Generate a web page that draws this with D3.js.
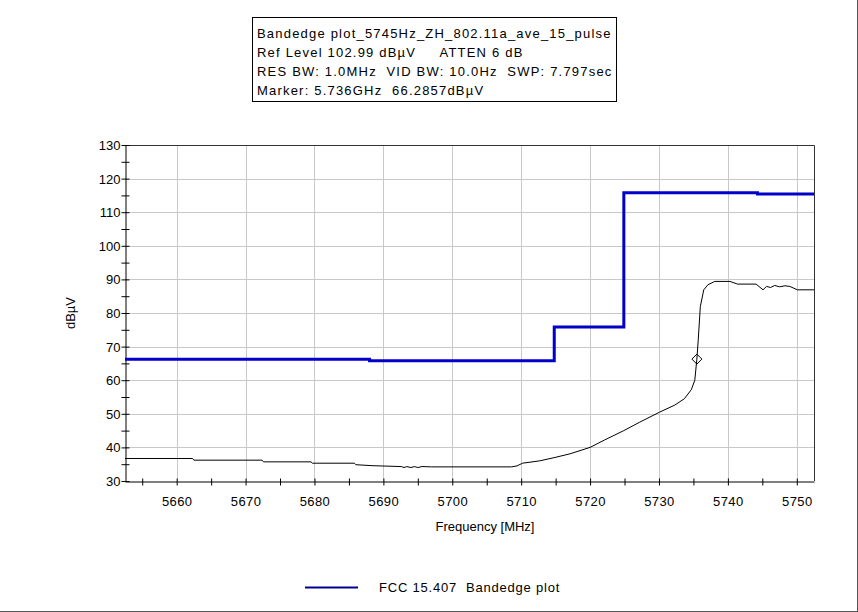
<!DOCTYPE html>
<html>
<head>
<meta charset="utf-8">
<script src="https://cdn.jsdelivr.net/npm/d3@7"></script>
<style>
  html, body { margin: 0; padding: 0; background: #fff; }
  svg { display: block; font-family: "Liberation Sans", Arial, sans-serif; }
  text { white-space: pre; }
</style>
</head>
<body>
<svg id="chart" width="858" height="612"></svg>
<script>
// Header text lines
const headerLines = [
  "Bandedge plot_5745Hz_ZH_802.11a_ave_15_pulse",
  "Ref Level 102.99 dBµV     ATTEN 6 dB",
  "RES BW: 1.0MHz  VID BW: 10.0Hz  SWP: 7.797sec",
  "Marker: 5.736GHz  66.2857dBµV"
];

// Axis ticks
const xTickValues = [5660, 5670, 5680, 5690, 5700, 5710, 5720, 5730, 5740, 5750];
const yTickValues = [30, 40, 50, 60, 70, 80, 90, 100, 110, 120, 130];

// Limit line (step segments): frequency [MHz], level [dBµV]
const limitFreq  = [5652.5, 5688.0, 5688.0, 5714.8, 5714.8, 5724.9, 5724.9, 5744.3, 5744.3, 5752.5];
const limitLevel = [66.2,   66.2,   65.8,   65.8,   75.8,   75.8,   115.8,  115.8,  115.4,  115.4];

// Measured trace: frequency [MHz], level [dBµV]
const traceFreq = [
  5652.5, 5662.3, 5662.5, 5672.4, 5672.6, 5679.5, 5679.7, 5685.8, 5686.0, 5688.5,
  5692.6, 5693.0, 5693.4, 5694.0, 5694.5, 5695.0, 5695.6, 5697.0, 5708.6, 5709.4,
  5710.2, 5712.7, 5714.9, 5717.1, 5720.0, 5722.1, 5724.9, 5727.2, 5730.1, 5732.3,
  5733.7, 5734.7, 5735.2, 5735.5, 5735.7, 5736.0, 5736.5, 5737.1, 5738.1, 5740.3,
  5741.4, 5744.1, 5745.1, 5745.6, 5746.2, 5746.8, 5747.5, 5748.3, 5749.0, 5750.1,
  5752.5
];
const traceLevel = [
  36.7, 36.7, 36.2, 36.2, 35.7, 35.7, 35.3, 35.3, 34.85, 34.55,
  34.3, 34.0, 34.3, 34.0, 34.3, 34.0, 34.3, 34.2, 34.2, 34.5,
  35.3, 36.0, 37.0, 38.1, 40.0, 42.2, 45.0, 47.5, 50.5, 52.6,
  54.5, 57.2, 60.0, 66.2857, 72.0, 81.9, 86.9, 88.4, 89.4, 89.4,
  88.6, 88.6, 86.9, 87.9, 87.6, 88.2, 87.8, 88.1, 87.9, 86.9,
  86.9
];

// Marker
const markerFreq = 5735.5;
const markerLevel = 66.2857;

const legendLabel = "FCC 15.407  Bandedge plot";

const svg = d3.select("#chart");
const plot = { left: 125, right: 814, top: 145, bottom: 481 };

const x = d3.scaleLinear().domain([5652.5, 5752.5]).range([plot.left, plot.right]);
const y = d3.scaleLinear().domain([30, 130]).range([plot.bottom, plot.top]);

// Outer frame edges
svg.append("line").attr("x1", 857.5).attr("x2", 857.5).attr("y1", 0).attr("y2", 612)
  .attr("stroke", "#555");
svg.append("line").attr("x1", 0).attr("x2", 858).attr("y1", 611.5).attr("y2", 611.5)
  .attr("stroke", "#555");

// Header box
const hb = svg.append("g");
hb.append("rect").attr("x", 252.5).attr("y", 17.5).attr("width", 364).attr("height", 84)
  .attr("fill", "#fff").attr("stroke", "#000");
hb.selectAll("text").data(headerLines).join("text")
  .attr("x", 257)
  .attr("y", (d, i) => 38 + i * 19)
  .attr("font-size", 13)
  .attr("letter-spacing", 1.2)
  .attr("fill", "#000")
  .text(d => d);

// Grid
const grid = svg.append("g").attr("stroke", "#c8c8c8").attr("stroke-width", 1);
grid.selectAll(".gx").data(xTickValues).join("line")
  .attr("x1", d => Math.round(x(d)) + 0.5).attr("x2", d => Math.round(x(d)) + 0.5)
  .attr("y1", plot.top).attr("y2", plot.bottom);
grid.selectAll(".gy").data(yTickValues.filter(v => v > 30 && v < 130)).join("line")
  .attr("x1", plot.left).attr("x2", plot.right)
  .attr("y1", d => Math.round(y(d)) + 0.5).attr("y2", d => Math.round(y(d)) + 0.5);

// Top and right frame of the plot
svg.append("path")
  .attr("d", `M${plot.left},${plot.top + 0.5}H${plot.right + 0.5}V${plot.bottom}`)
  .attr("fill", "none").attr("stroke", "#333");

// Axes
const xAxis = d3.axisBottom(x)
  .tickValues(d3.range(5655, 5751, 5))
  .tickSize(0)
  .tickFormat(d => xTickValues.includes(d) ? d : "");
const gx = svg.append("g").attr("transform", `translate(0,${plot.bottom + 0.5})`).call(xAxis);
gx.select(".domain").attr("stroke", "#000");
gx.selectAll(".tick line").attr("y1", -3).attr("y2", 4).attr("stroke", "#000");
gx.selectAll(".tick text").attr("dy", 0).attr("y", 24)
  .attr("font-size", 13).attr("letter-spacing", 0.4)
  .attr("font-family", "Liberation Sans, Arial, sans-serif").attr("fill", "#000");

const yAxis = d3.axisLeft(y)
  .tickValues(d3.range(30, 131, 5))
  .tickSize(0)
  .tickFormat(d => yTickValues.includes(d) ? d : "");
const gy = svg.append("g").attr("transform", `translate(${plot.left + 0.5},0)`).call(yAxis);
gy.select(".domain").attr("stroke", "#000");
gy.selectAll(".tick line").attr("x1", -4).attr("x2", 4).attr("stroke", "#000");
gy.selectAll(".tick text").attr("x", -5).attr("dy", "0.35em")
  .attr("font-size", 13).attr("font-family", "Liberation Sans, Arial, sans-serif").attr("fill", "#000");

// Axis titles
svg.append("text").attr("x", 485).attr("y", 531)
  .attr("text-anchor", "middle").attr("font-size", 13).text("Frequency [MHz]");
svg.append("text")
  .attr("transform", `translate(75,${(plot.top + plot.bottom) / 2}) rotate(-90)`)
  .attr("text-anchor", "middle").attr("font-size", 13).text("dBµV");

// Limit line
const limitData = limitFreq.map((f, i) => [f, limitLevel[i]]);
svg.append("path").datum(limitData)
  .attr("d", d3.line().x(d => x(d[0])).y(d => y(d[1])))
  .attr("fill", "none").attr("stroke", "#0000c8").attr("stroke-width", 3);

// Measured trace
const traceData = traceFreq.map((f, i) => [f, traceLevel[i]]);
svg.append("path").datum(traceData)
  .attr("d", d3.line().x(d => x(d[0])).y(d => y(d[1])))
  .attr("fill", "none").attr("stroke", "#000").attr("stroke-width", 1);

// Marker diamond
const mx = x(markerFreq), my = y(markerLevel);
svg.append("path")
  .attr("d", `M${mx},${my - 5}L${mx + 5},${my}L${mx},${my + 5}L${mx - 5},${my}Z`)
  .attr("fill", "none").attr("stroke", "#000").attr("stroke-width", 1);

// Legend
svg.append("line").attr("x1", 305).attr("x2", 358).attr("y1", 587.5).attr("y2", 587.5)
  .attr("stroke", "#000090").attr("stroke-width", 2);
svg.append("text").attr("x", 379).attr("y", 592).attr("font-size", 13)
  .attr("letter-spacing", 0.8).text(legendLabel);
</script>
</body>
</html>
